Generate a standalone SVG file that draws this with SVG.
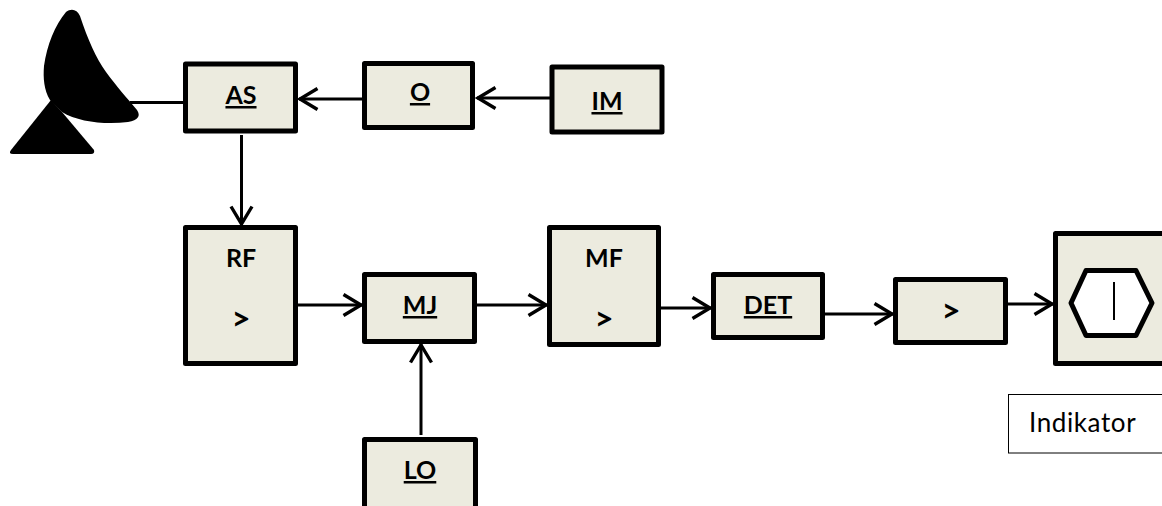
<svg xmlns="http://www.w3.org/2000/svg" width="1162" height="506" viewBox="0 0 1162 506">
<defs>
<marker id="arr" markerUnits="userSpaceOnUse" markerWidth="24" markerHeight="26" refX="21" refY="13" orient="auto"><path d="M2.500 2.500L20 13L2.500 23.500" fill="none" stroke="#000" stroke-width="3.4"/></marker>
</defs>
<style>
.b{fill:#ecebdf;stroke:#000;stroke-width:5;stroke-linejoin:round}
.t{font-family:"Lato","Liberation Sans",sans-serif;font-weight:700;font-size:25px;text-anchor:middle;fill:#000}
.g{font-size:33px}
.u{text-decoration:underline}
.c{fill:none;stroke:#000;stroke-width:3}
.l{font-family:"Lato","Liberation Sans",sans-serif;font-size:26px;letter-spacing:.6px;fill:#000}
</style>
<g id="connectors">
<path class="c" d="M130 102.500H183"/>
<path class="c" d="M362 99H299" marker-end="url(#arr)"/>
<path class="c" d="M550 98H477" marker-end="url(#arr)"/>
<path class="c" d="M241.500 135V225" marker-end="url(#arr)"/>
<path class="c" d="M298 305H362" marker-end="url(#arr)"/>
<path class="c" d="M421 435V344" marker-end="url(#arr)"/>
<path class="c" d="M477 305H547" marker-end="url(#arr)"/>
<path class="c" d="M661 308H711" marker-end="url(#arr)"/>
<path class="c" d="M825 314H893" marker-end="url(#arr)"/>
<path class="c" d="M1008 304H1053" marker-end="url(#arr)"/>
</g>
<g id="antenna">
<path d="M51 100L62 112L94 150Q95 154 91 154H13Q8 154 11 150Z" fill="#000"/>
<path d="M66 12C71 8 77 9 80 16C88 40 96 58 106 72C117 87 127 98 137 110C141 116 138 120 128 122C106 125 78 122 62 112L50 100C44 90 43 78 44 66C47 45 55 25 66 12Z" fill="#000"/>
</g>
<g id="as"><rect class="b" x="185.500" y="64" width="110" height="67"/><text class="t u" x="241" y="104">AS</text></g>
<g id="o"><rect class="b" x="364.500" y="63.500" width="108" height="64"/><text class="t u" x="420" y="101">O</text></g>
<g id="im"><rect class="b" x="552" y="67" width="110" height="65"/><text class="t u" x="607" y="110">IM</text></g>
<g id="rf"><rect class="b" x="185.500" y="227.500" width="110" height="136"/><text class="t" x="241" y="267">RF</text><text class="t g" x="241" y="330">&gt;</text></g>
<g id="mj"><rect class="b" x="364.500" y="274.500" width="110" height="67"/><text class="t u" x="420" y="314">MJ</text></g>
<g id="mf"><rect class="b" x="549.500" y="227.500" width="109" height="117"/><text class="t" x="604" y="267">MF</text><text class="t g" x="604" y="330">&gt;</text></g>
<g id="det"><rect class="b" x="713.500" y="274.500" width="109" height="63"/><text class="t u" x="768" y="314">DET</text></g>
<g id="amp"><rect class="b" x="895.500" y="279.500" width="110" height="63"/><text class="t g" x="951" y="322">&gt;</text></g>
<g id="indicator"><rect class="b" x="1055.500" y="233.500" width="120" height="130"/><path d="M1086 270.500H1136L1152 303L1136 335.500H1086L1071 303Z" fill="#fff" stroke="#000" stroke-width="5" stroke-linejoin="round"/><path d="M1114 282V320" stroke="#000" stroke-width="2" fill="none"/></g>
<g id="lo"><rect class="b" x="364.500" y="439.500" width="111" height="80"/><text class="t u" x="420" y="479">LO</text></g>
<g id="label"><rect x="1008.500" y="394.500" width="170" height="58.500" fill="#fff" stroke="#000" stroke-width="1"/><text class="l" x="1029" y="432">Indikator</text></g>
</svg>
